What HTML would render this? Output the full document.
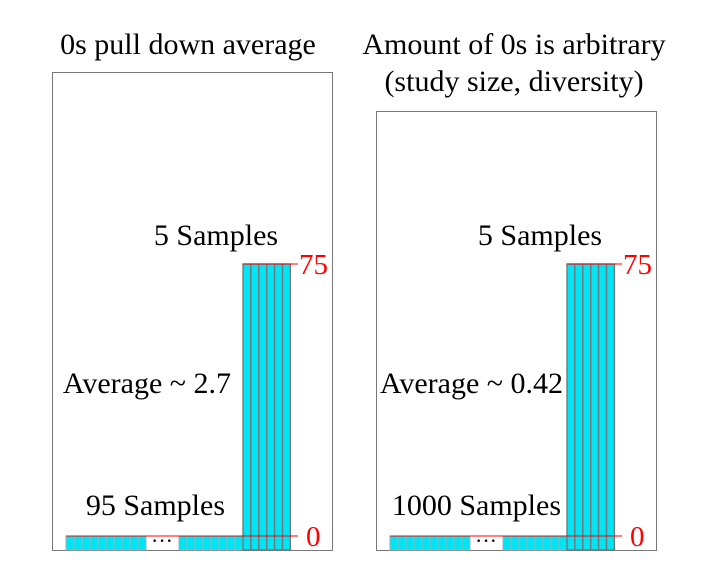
<!DOCTYPE html>
<html><head><meta charset="utf-8"><style>
body{margin:0;background:#fff}
svg{display:block;font-family:"Liberation Serif",serif}
</style></head><body>
<svg width="707" height="588" viewBox="0 0 707 588" id="chart">
<text x="188" y="54" font-size="30" text-anchor="middle">0s pull down average</text>
<text x="514" y="54" font-size="30" text-anchor="middle">Amount of 0s is arbitrary</text>
<text x="514" y="91" font-size="30" text-anchor="middle">(study size, diversity)</text>
</svg>
<script>
const panelNames=["left-panel","right-panel"];
const sampleLabels=["95 Samples","1000 Samples"];
const avgLabels=["Average ~ 2.7","Average ~ 0.42"];
const tallValues=[75,75,75,75,75,75];
const tickValues=[0,75];
const tickLabels=["0","75"];
const frames=[{x:52,y:72,w:280,h:478},{x:376,y:111,w:280,h:439}];
const avgOff=[12,4];
const smpOff=[18,6];
const ns="http://www.w3.org/2000/svg";
const svg=document.getElementById('chart');
function mk(t,a,p){const e=document.createElementNS(ns,t);for(const k in a)e.setAttribute(k,a[k]);(p||svg).appendChild(e);return e;}
const y0=536,y75=264;
function yS(v){return y0-(v/75)*(y0-y75);}
frames.forEach((f,i)=>{
  const g=mk('g',{});
  
  
  const r=mk('rect',{x:f.x+0.5,y:f.y+0.5,width:f.w,height:f.h,fill:'#fff',stroke:'#777','stroke-width':1},g);
  
  
  const x0=f.x+14;
  for(let k=0;k<10;k++){const b=mk('rect',{x:x0+k*8,y:y0,width:8,height:14,fill:'#00e5f5',stroke:'#aaa','stroke-width':1},g);
    
    }
  const t=mk('text',{x:x0+96,y:548,'font-size':22,'text-anchor':'middle'},g);t.textContent='···';
  
  
  for(let k=0;k<8;k++){const b=mk('rect',{x:x0+113+k*8,y:y0,width:8,height:14,fill:'#00e5f5',stroke:'#aaa','stroke-width':1},g);
    
    }
  const tx=f.x+191;
  tallValues.forEach((v,k)=>{const b=mk('rect',{x:tx+k*7.9,y:yS(v),width:7.9,height:550-yS(v),fill:'#00e5f5',stroke:'#777','stroke-width':1.4},g);
    
    });
  tickValues.forEach((v,k)=>{
    const sx=v===0?x0:tx;
    const l=mk('line',{x1:sx,x2:f.x+246,y1:yS(v),y2:yS(v),stroke:'#f00','stroke-width':1},g);
    
    
    const tt=mk('text',{x:f.x+(v===0?254:247),y:yS(v)+10,'font-size':29,fill:'#f00'},g);tt.textContent=tickLabels[k];
    
    
  });
  const s5=mk('text',{x:f.x+164,y:245,'font-size':30,'text-anchor':'middle'},g);s5.textContent='5 Samples';
  
  
  const av=mk('text',{x:tx-avgOff[i],y:393,'font-size':30,'text-anchor':'end'},g);av.textContent=avgLabels[i];
  
  
  const sl=mk('text',{x:tx-smpOff[i],y:515,'font-size':30,'text-anchor':'end'},g);sl.textContent=sampleLabels[i];
  
  
});
</script>
</body></html>
